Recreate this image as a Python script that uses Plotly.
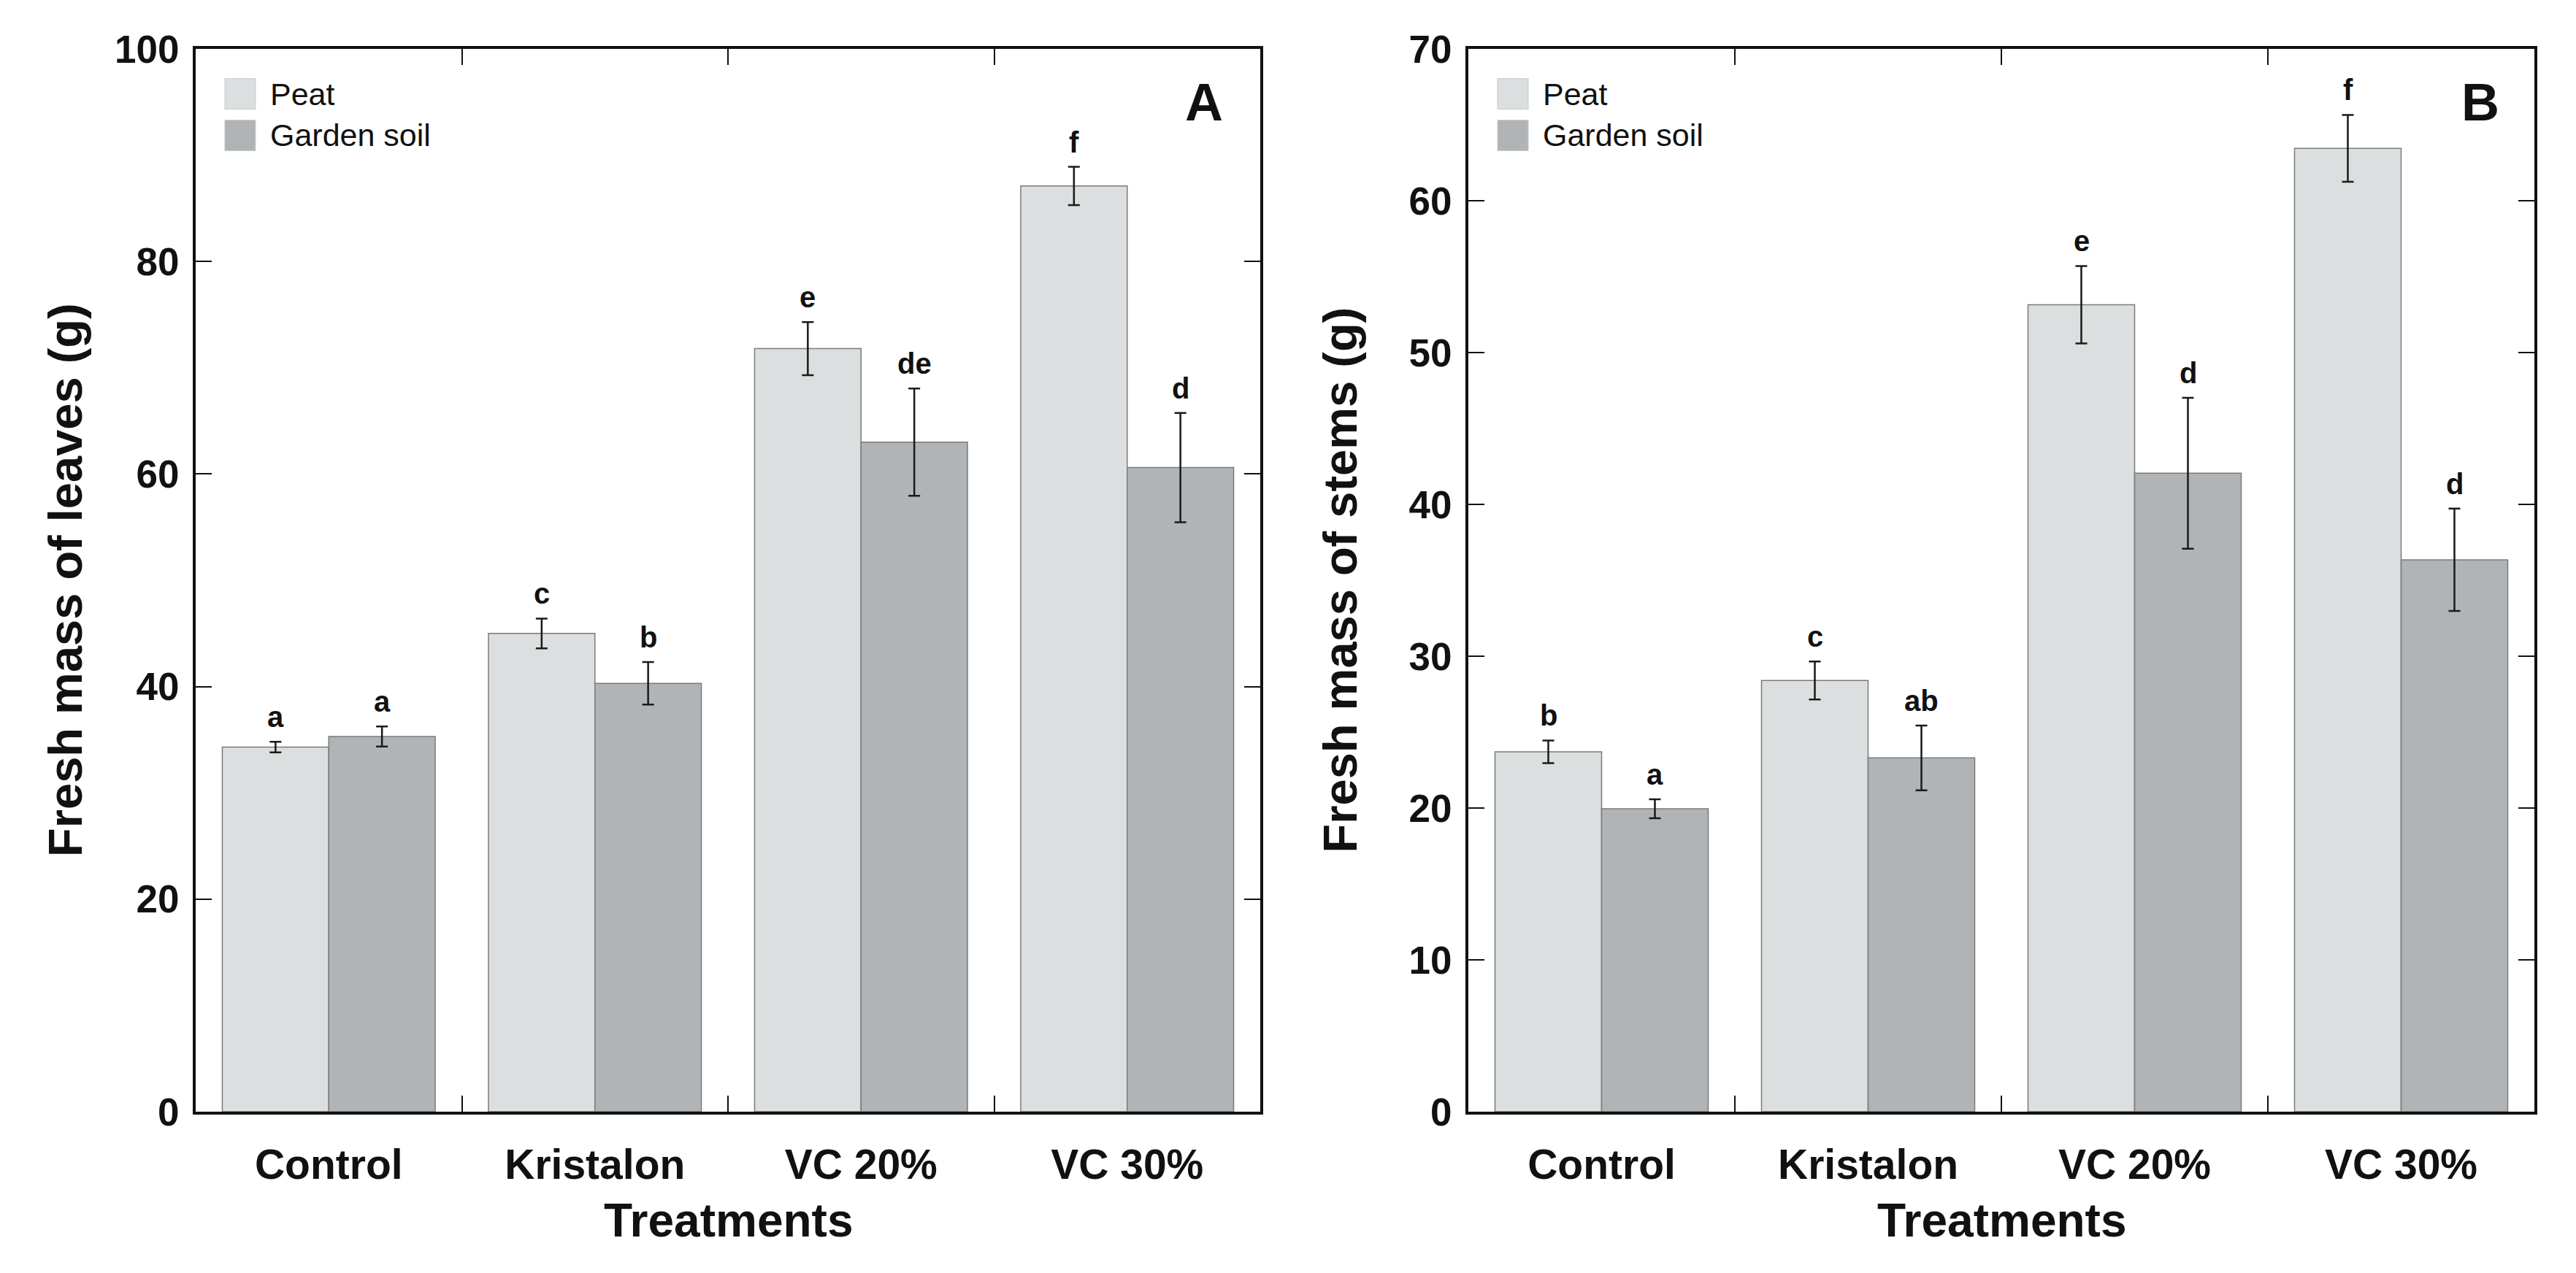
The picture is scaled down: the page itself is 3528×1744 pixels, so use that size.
import plotly.graph_objects as go

treatments = ["Control", "Kristalon", "VC 20%", "VC 30%"]
series_names = ["Peat", "Garden soil"]

# Panel A: fresh mass of leaves (g)
leaves_peat = [34.3, 45.0, 71.8, 87.1]
leaves_peat_err = [0.5, 1.4, 2.5, 1.8]
leaves_garden = [35.3, 40.3, 63.0, 60.6]
leaves_garden_err = [0.95, 2.0, 5.05, 5.15]
leaves_peat_letters = ["a", "c", "e", "f"]
leaves_garden_letters = ["a", "b", "de", "d"]

# Panel B: fresh mass of stems (g)
stems_peat = [23.7, 28.4, 53.15, 63.45]
stems_peat_err = [0.75, 1.25, 2.55, 2.2]
stems_garden = [19.95, 23.3, 42.05, 36.35]
stems_garden_err = [0.63, 2.13, 4.97, 3.37]
stems_peat_letters = ["b", "c", "e", "f"]
stems_garden_letters = ["a", "ab", "d", "d"]

W, H = 3528, 1744
PEAT_COLOR = "#dcdfdf"
GARDEN_COLOR = "#b1b4b7"
FONT = "Liberation Sans, Arial, Helvetica, sans-serif"

fig = go.Figure()

panels = [
    dict(xa="x", ya="y", peat=leaves_peat, pe=leaves_peat_err, gar=leaves_garden, ge=leaves_garden_err,
         pl=leaves_peat_letters, gl=leaves_garden_letters),
    dict(xa="x2", ya="y2", peat=stems_peat, pe=stems_peat_err, gar=stems_garden, ge=stems_garden_err,
         pl=stems_peat_letters, gl=stems_garden_letters),
]

annotations = []
shapes = []
for p in panels:
    for name, vals, errs, col in [(series_names[0], p["peat"], p["pe"], PEAT_COLOR),
                                  (series_names[1], p["gar"], p["ge"], GARDEN_COLOR)]:
        fig.add_trace(go.Bar(
            x=treatments, y=vals, name=name, xaxis=p["xa"], yaxis=p["ya"],
            marker=dict(color=col, line=dict(color="#7a7a7a", width=1.5)),
            error_y=dict(type="data", array=errs, visible=True, color="#1a1a1a", thickness=2.5, width=8),
            showlegend=False,
        ))
    for i in range(len(treatments)):
        for off, vals, errs, labs in [(-0.2, p["peat"], p["pe"], p["pl"]), (0.2, p["gar"], p["ge"], p["gl"])]:
            annotations.append(dict(
                x=i + off, y=vals[i] + errs[i], xref=p["xa"], yref=p["ya"],
                text=labs[i], showarrow=False, yanchor="bottom", xanchor="center", yshift=10,
                font=dict(family=FONT, size=40, color="#111", weight="bold"),
            ))
    xd = p["xa"] + " domain"
    yd = p["ya"] + " domain"
    for (y0, y1), col, name in [((0.9432, 0.9720), PEAT_COLOR, series_names[0]),
                                ((0.9042, 0.9330), GARDEN_COLOR, series_names[1])]:
        shapes.append(dict(type="rect", xref=xd, yref=yd, x0=0.0274, x1=0.0562, y0=y0, y1=y1,
                           fillcolor=col, line=dict(color="#c8cacb", width=1)))
        annotations.append(dict(x=0.0686, y=(y0 + y1) / 2, xref=xd, yref=yd, text=name,
                                showarrow=False, xanchor="left", yanchor="middle",
                                font=dict(family=FONT, size=43, color="#111")))

annotations.append(dict(x=0.947, y=0.950, xref="x domain", yref="y domain", text="A", showarrow=False,
                        xanchor="center", yanchor="middle", font=dict(family=FONT, size=72, color="#111", weight="bold")))
annotations.append(dict(x=0.949, y=0.950, xref="x2 domain", yref="y2 domain", text="B", showarrow=False,
                        xanchor="center", yanchor="middle", font=dict(family=FONT, size=72, color="#111", weight="bold")))

ax_dom_A = [260 / W, 1718 / W]
ax_dom_B = [2003 / W, 3463 / W]
ydom = [1 - 1538 / H, 1 - 31 / H]
for xc, txt in [(81.5 / W, "Fresh mass of leaves (g)"), (1827 / W, "Fresh mass of stems (g)")]:
    annotations.append(dict(x=xc, y=1 - 784 / H, xref="paper", yref="paper", text=txt, textangle=-90,
                            showarrow=False, xanchor="center", yanchor="middle",
                            font=dict(family=FONT, size=65, color="#111", weight="bold")))
for dom in [ax_dom_A, ax_dom_B]:
    annotations.append(dict(x=(dom[0] + dom[1]) / 2, y=1 - 1692 / H, xref="paper", yref="paper",
                            text="Treatments", showarrow=False, xanchor="center", yanchor="middle",
                            font=dict(family=FONT, size=64, color="#111", weight="bold")))

xcommon = dict(type="category", tickson="boundaries", ticks="inside", ticklen=22, tickwidth=2,
               tickcolor="#111", showline=True, linewidth=4, linecolor="#111", mirror="ticks",
               showgrid=False, zeroline=False, range=[-0.5, 3.5], ticklabelstandoff=20,
               tickfont=dict(family=FONT, size=57, color="#111", weight="bold"))
ycommon = dict(ticks="inside", ticklen=22, tickwidth=2, tickcolor="#111", showline=True, linewidth=4,
               linecolor="#111", mirror="ticks", showgrid=False, zeroline=False, ticklabelstandoff=8,
               tickfont=dict(family=FONT, size=53, color="#111", weight="bold"))

fig.update_layout(
    width=W, height=H,
    margin=dict(l=0, r=0, t=0, b=0),
    paper_bgcolor="white", plot_bgcolor="white",
    barmode="group", bargap=0.2, bargroupgap=0,
    xaxis=dict(domain=ax_dom_A, anchor="y", **xcommon),
    yaxis=dict(domain=ydom, anchor="x", range=[0, 100], dtick=20, **ycommon),
    xaxis2=dict(domain=ax_dom_B, anchor="y2", **xcommon),
    yaxis2=dict(domain=ydom, anchor="x2", range=[0, 70], dtick=10, **ycommon),
    annotations=annotations, shapes=shapes,
    showlegend=False,
)

fig.write_html("out.html")
